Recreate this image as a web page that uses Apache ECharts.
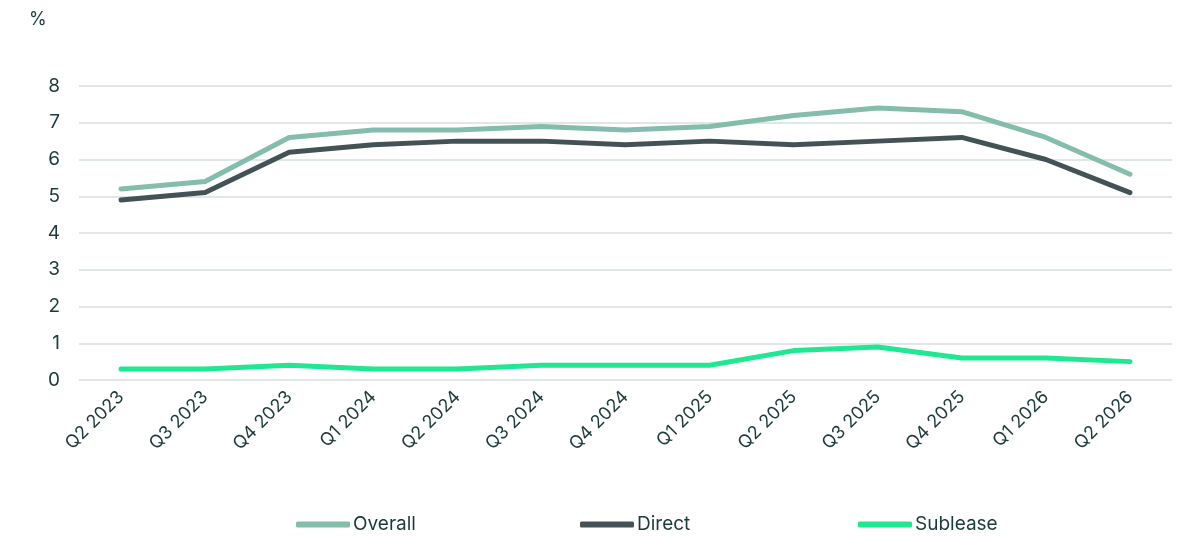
<!DOCTYPE html>
<html>
<head>
<meta charset="utf-8">
<script src="https://cdn.jsdelivr.net/npm/echarts@6/dist/echarts.min.js"></script>
<style>html,body{margin:0;padding:0;background:#fff}#c{width:1178px;height:537px}</style>
</head>
<body>
<div id="c"></div>
<script>
const categories = ['Q2 2023','Q3 2023','Q4 2023','Q1 2024','Q2 2024','Q3 2024','Q4 2024','Q1 2025','Q2 2025','Q3 2025','Q4 2025','Q1 2026','Q2 2026'];
const overall  = [5.2, 5.4, 6.6, 6.8, 6.8, 6.9, 6.8, 6.9, 7.2, 7.4, 7.3, 6.6, 5.6];
const direct   = [4.9, 5.1, 6.2, 6.4, 6.5, 6.5, 6.4, 6.5, 6.4, 6.5, 6.6, 6.0, 5.1];
const sublease = [0.3, 0.3, 0.4, 0.3, 0.3, 0.4, 0.4, 0.4, 0.8, 0.9, 0.6, 0.6, 0.5];
const yTicks = [0, 1, 2, 3, 4, 5, 6, 7, 8];

const txt = '#1d3a3a';
const font = 'Inter, Roboto, sans-serif';
const colors = {Overall: '#84bdab', Direct: '#435355', Sublease: '#1ee890'};

function leg(name, left) {
  return {
    data: [name], left: left, top: 510, icon: 'roundRect', itemWidth: 54, itemHeight: 6,
    itemGap: 0, textStyle: {color: txt, fontSize: 19, fontFamily: font, padding: [0, 0, 0, -2]}
  };
}
function ser(name, data) {
  return {
    name: name, type: 'line', data: data, symbol: 'none', smooth: false,
    lineStyle: {width: 5, color: colors[name], cap: 'round', join: 'round'},
    itemStyle: {color: colors[name]}
  };
}
const chart = echarts.init(document.getElementById('c'));
chart.setOption({
  animation: false,
  title: {text: '%', left: 24, top: 6, textStyle: {color: txt, fontSize: 18, fontWeight: 'normal', fontFamily: font}},
  grid: {left: 79, right: 6, top: 86, bottom: 157},
  legend: [leg('Overall', 291), leg('Direct', 575), leg('Sublease', 853)],
  xAxis: {
    type: 'category', data: categories, boundaryGap: true,
    axisLine: {show: false}, axisTick: {show: false},
    axisLabel: {rotate: 45, color: txt, fontSize: 18, fontFamily: font, margin: 14, interval: 0}
  },
  yAxis: {
    type: 'value', min: yTicks[0], max: yTicks[yTicks.length - 1], interval: 1,
    axisLine: {show: false}, axisTick: {show: false},
    axisLabel: {color: txt, fontSize: 19, fontFamily: font, margin: 19},
    splitLine: {lineStyle: {color: '#e1e7e7', width: 2}}
  },
  series: [ser('Overall', overall), ser('Direct', direct), ser('Sublease', sublease)]
});
</script>
</body>
</html>
